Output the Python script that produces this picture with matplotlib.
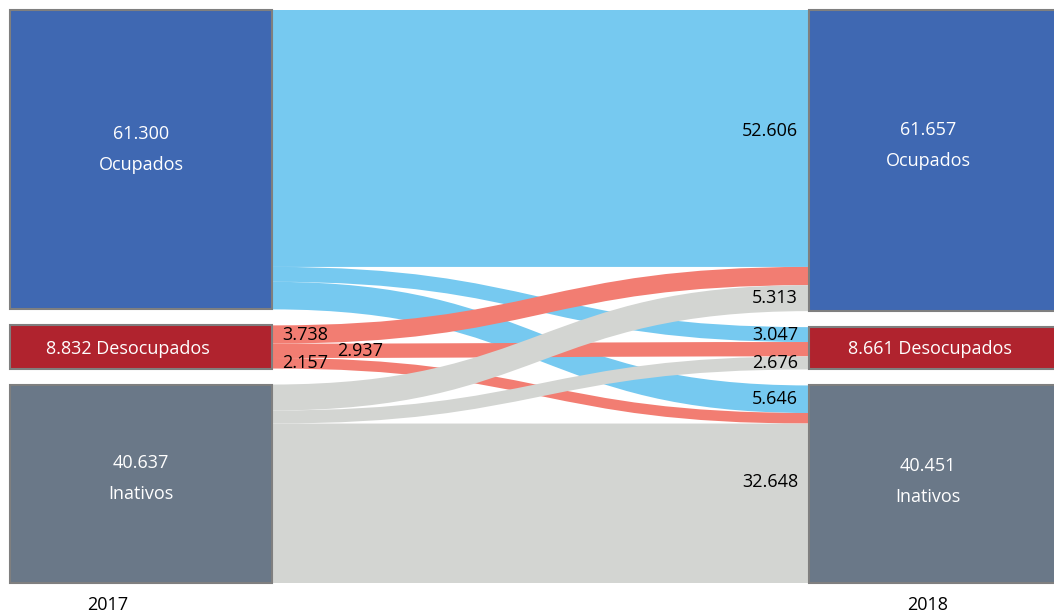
import numpy as np
import matplotlib.pyplot as plt
from matplotlib.path import Path
from matplotlib.patches import PathPatch, Rectangle

plt.rcParams['font.family'] = ['Open Sans', 'DejaVu Sans']

# node values
states = ['Ocupados', 'Desocupados', 'Inativos']
left_vals = [61.300, 8.832, 40.637]
right_vals = [61.657, 8.661, 40.451]
left_txt = ['61.300', '8.832', '40.637']
right_txt = ['61.657', '8.661', '40.451']

# flows[i][j] = from state i (2017) to state j (2018)
flows = [[52.606, 3.047, 5.646],
         [3.738, 2.937, 2.157],
         [5.313, 2.676, 32.648]]
flow_txt = [['52.606', '3.047', '5.646'],
            ['3.738', '2.937', '2.157'],
            ['5.313', '2.676', '32.648']]

node_colors = ['#3F68B2', '#B0232E', '#6A7888']
flow_colors = ['#76C9F0', '#F27D72', '#D3D5D2']

W, H = 1054, 615
fig = plt.figure(figsize=(W / 100, H / 100), dpi=100)
ax = fig.add_axes([0, 0, 1, 1])
ax.set_xlim(0, W)
ax.set_ylim(H, 0)
ax.axis('off')

top, bottom, gap = 10, 583, 16
total = sum(left_vals)
scale = (bottom - top - 2 * gap) / total
lx0, lx1 = 10, 272
rx0, rx1 = 809, 1060


def stack(vals):
    ys = []
    y = top
    for v in vals:
        ys.append(y)
        y += v * scale + gap
    return ys


ly = stack(left_vals)
ry = stack(right_vals)

# band positions on each side
out_pos = {}
for i in range(3):
    y = ly[i]
    for j in range(3):
        out_pos[(i, j)] = y
        y += flows[i][j] * scale
in_pos = {}
for j in range(3):
    y = ry[j]
    for i in range(3):
        in_pos[(i, j)] = y
        y += flows[i][j] * scale


def ribbon(y0, y1, h, color):
    xm = (lx1 + rx0) / 2
    verts = [(lx1, y0), (xm, y0), (xm, y1), (rx0, y1),
             (rx0, y1 + h), (xm, y1 + h), (xm, y0 + h), (lx1, y0 + h),
             (lx1, y0)]
    codes = [Path.MOVETO, Path.CURVE4, Path.CURVE4, Path.CURVE4,
             Path.LINETO, Path.CURVE4, Path.CURVE4, Path.CURVE4,
             Path.CLOSEPOLY]
    ax.add_patch(PathPatch(Path(verts, codes), facecolor=color,
                           edgecolor='none', lw=0))


# blue first, then red, then gray on top
for i in range(3):
    for j in range(3):
        ribbon(out_pos[(i, j)], in_pos[(i, j)], flows[i][j] * scale,
               flow_colors[i])

# nodes
for k in range(3):
    ax.add_patch(Rectangle((lx0, ly[k]), lx1 - lx0, left_vals[k] * scale,
                           facecolor=node_colors[k], edgecolor='#7F7F7F', lw=1.5))
    ax.add_patch(Rectangle((rx0, ry[k]), rx1 - rx0, right_vals[k] * scale,
                           facecolor=node_colors[k], edgecolor='#7F7F7F', lw=1.5))

fs = 13
ls = 1.95
# node labels
lcx = (lx0 + lx1) / 2
rcx = 928
ax.text(lcx, ly[0] + left_vals[0] * scale / 2 - 10, left_txt[0] + '\n' + states[0],
        color='white', fontsize=fs, ha='center', va='center', linespacing=ls)
ax.text(rcx, ry[0] + right_vals[0] * scale / 2 - 15, right_txt[0] + '\n' + states[0],
        color='white', fontsize=fs, ha='center', va='center', linespacing=ls)
ax.text(lcx - 13, ly[1] + left_vals[1] * scale / 2 + 2, left_txt[1] + ' ' + states[1],
        color='white', fontsize=fs, ha='center', va='center')
ax.text(rcx + 2, ry[1] + right_vals[1] * scale / 2 + 1, right_txt[1] + ' ' + states[1],
        color='white', fontsize=fs, ha='center', va='center')
ax.text(lcx, ly[2] + left_vals[2] * scale / 2 - 5, left_txt[2] + '\n' + states[2],
        color='white', fontsize=fs, ha='center', va='center', linespacing=ls)
ax.text(rcx, ry[2] + right_vals[2] * scale / 2 - 3, right_txt[2] + '\n' + states[2],
        color='white', fontsize=fs, ha='center', va='center', linespacing=ls)

# flow labels at the 2018 side
shift = {(0, 0): -7, (2, 2): -21}
for i, j in [(0, 0), (2, 0), (0, 1), (2, 1), (0, 2), (2, 2)]:
    yc = in_pos[(i, j)] + flows[i][j] * scale / 2 + shift.get((i, j), 0)
    ax.text(rx0 - 11, yc, flow_txt[i][j], fontsize=fs, ha='right', va='center')

# flow labels at the 2017 side (desocupados)
for j, xo in [(0, 282), (1, 337), (2, 282)]:
    yc = out_pos[(1, j)] + flows[1][j] * scale / 2
    ax.text(xo, yc, flow_txt[1][j], fontsize=fs, ha='left', va='center')

ax.text(108, 605, '2017', fontsize=fs, ha='center', va='center')
ax.text(928, 605, '2018', fontsize=fs, ha='center', va='center')

fig.savefig('out.png', dpi=100)
